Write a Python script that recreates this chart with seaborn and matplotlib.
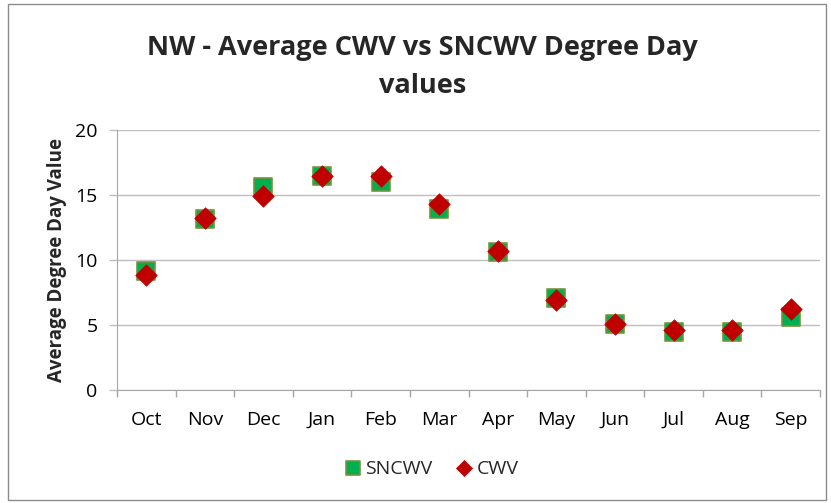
import numpy as np
import pandas as pd
import matplotlib
matplotlib.use("Agg")
import matplotlib.pyplot as plt
import seaborn as sns
from matplotlib.ticker import FixedLocator

# Chart data
months = ["Oct", "Nov", "Dec", "Jan", "Feb", "Mar", "Apr", "May", "Jun", "Jul", "Aug", "Sep"]
sncwv = [9.15, 13.15, 15.6, 16.5, 16.0, 13.9, 10.6, 7.05, 5.1, 4.45, 4.45, 5.65]
cwv = [8.85, 13.2, 14.9, 16.5, 16.45, 14.3, 10.7, 6.9, 5.05, 4.6, 4.65, 6.2]

df = pd.DataFrame({"Month": months, "SNCWV": sncwv, "CWV": cwv})

sns.set_style("white")
plt.rcParams["font.family"] = ["Open Sans", "DejaVu Sans"]

fig = plt.figure(figsize=(8.31, 5.03), dpi=100)
ax = fig.add_axes([117 / 831, 1 - 390 / 503, (820 - 117) / 831, (390 - 130) / 503])

sns.scatterplot(data=df, x="Month", y="SNCWV", ax=ax, marker="s", s=170,
                color="#00B050", edgecolor="#77933C", linewidth=1.2, label="SNCWV", zorder=3)
sns.scatterplot(data=df, x="Month", y="CWV", ax=ax, marker="D", s=120,
                color="#C00000", edgecolor="#C00000", linewidth=0.5, label="CWV", zorder=4)

ax.set_xlim(-0.5, len(months) - 0.5)
ax.set_ylim(0, 20)
ax.set_yticks([0, 5, 10, 15, 20])
ax.yaxis.grid(True, color="#BFBFBF", linewidth=1)
ax.set_axisbelow(True)

for side in ["top", "right"]:
    ax.spines[side].set_visible(False)
ax.spines["left"].set_color("#A6A6A6")
ax.spines["bottom"].set_color("#A6A6A6")

ax.xaxis.set_minor_locator(FixedLocator(np.arange(-0.5, len(months), 1.0)))
ax.tick_params(axis="x", which="minor", bottom=True, length=5, width=1,
               color="#A6A6A6", direction="out")
ax.tick_params(axis="x", which="major", bottom=True, length=0, labelsize=14, pad=15,
               labelcolor="black")
ax.tick_params(axis="y", which="major", left=True, length=6, width=1, color="#BFBFBF",
               direction="out", labelsize=14, pad=8, labelcolor="black")

ax.set_xlabel("")
ax.set_ylabel("Average Degree Day Value", fontsize=13.5, fontweight="bold", labelpad=6)

fig.suptitle("NW - Average CWV vs SNCWV Degree Day\nvalues", x=0.508, y=0.93,
             fontsize=19.5, fontweight="bold", linespacing=1.6)

ax.legend(loc="upper center", bbox_to_anchor=(0.445, -0.2), ncol=2, frameon=False,
          fontsize=14, handletextpad=0.05, columnspacing=1.0, markerscale=0.75,
          handlelength=1.2)

# Chart-area border
fig.patches.append(plt.Rectangle((8 / 831, 3 / 503), 818 / 831, 496 / 503, transform=fig.transFigure,
                                 fill=False, edgecolor="#8C8C8C", linewidth=1))

fig.savefig("out.png", dpi=100)
